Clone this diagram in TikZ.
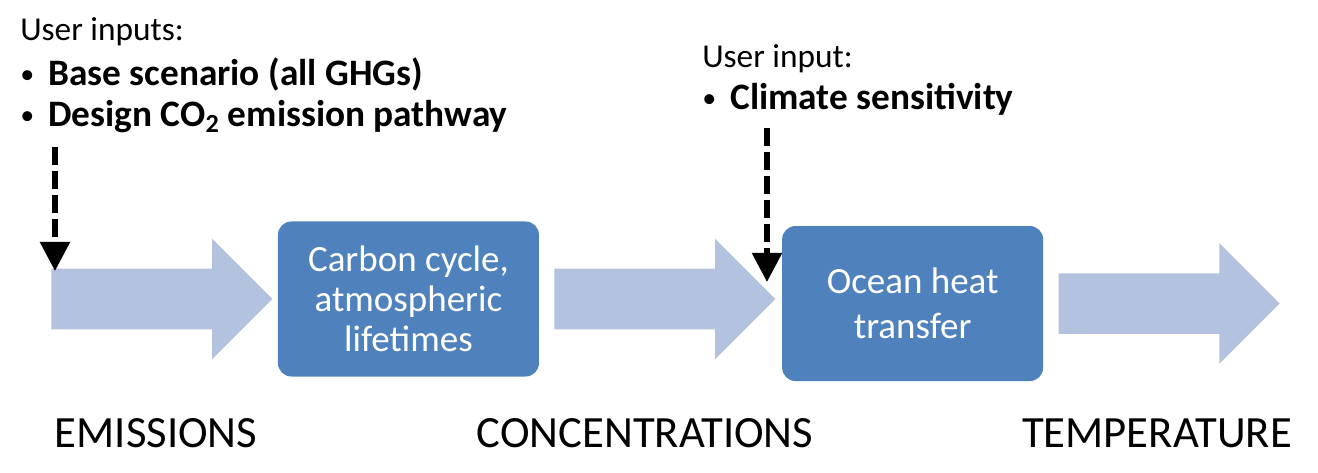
\documentclass[tikz,border=0pt]{standalone}
\usepackage{fontspec}
\setmainfont{Carlito}
\usepackage{xcolor}
\usepackage{tikz}
\usetikzlibrary{arrows.meta,positioning,shapes.arrows}

\definecolor{boxblue}{HTML}{4F81BD}
\definecolor{flowblue}{RGB}{179,194,222}

\newcommand{\itembullet}{\makebox[21pt][l]{\fontsize{21}{21}\selectfont\raisebox{1.8pt}{\textbullet}}}

\begin{document}
\begin{tikzpicture}[
  x=0.75pt, y=0.75pt,
  flow/.style={single arrow, fill=flowblue, draw=none, minimum height=165.75pt, inner xsep=0pt, inner ysep=22.5pt, single arrow head extend=22.5pt, single arrow tip angle=90},
  process/.style={fill=boxblue, draw=none, rounded corners=10pt, align=center, text=white, minimum width=195.75pt, minimum height=116.25pt, inner sep=0pt},
  stage/.style={anchor=base, inner sep=0pt, font=\fontsize{33.5}{40}\selectfont},
  heading/.style={anchor=base west, inner sep=0pt, font=\fontsize{25}{30}\selectfont},
  item/.style={anchor=base west, inner sep=0pt, font=\fontsize{28}{33}\selectfont},
  userarrow/.style={-{Triangle[width=21.75pt,length=21.75pt]}, line width=4pt, dash pattern=on 13.5pt off 4.5pt}
]
\useasboundingbox (0,0) rectangle (1318,472);

% main chain
\node[flow, anchor=west] (emit) at (51,173) {};
\node[process, right=3.75pt of emit, font=\fontsize{27.75}{30}\selectfont] (carbon) {Carbon cycle,\\atmospheric\\lifetimes};
\node[flow, right=11.25pt of carbon] (conc) {};
\node[process, right=4.5pt of conc, yshift=-3.4pt, font=\fontsize{27.75}{33.75}\selectfont] (ocean) {Ocean heat\\transfer};
\node[flow, right=11.25pt of ocean] (temp) {};

% stage labels
\node[stage] (emitlabel) at (156,25) {EMISSIONS};
\node[stage] (conclabel) at (645,25) {CONCENTRATIONS};
\node[stage] (templabel) at (1157,25) {TEMPERATURE};

% user inputs
\node[heading] (inputs) at (20,431) {User inputs:};
\node[item] (scenario) at (20,386) {\itembullet\textbf{Base scenario (all GHGs)}};
\node[item] (pathway) at (20,345) {\itembullet\textbf{Design CO\textsubscript{2} emission pathway}};
\node[heading] (input) at (702,404) {User input:};
\node[item] (sens) at (702,362) {\itembullet\textbf{Climate sensitivity}};

\coordinate (in1) at (55,325);
\coordinate (hit1) at (55,201);
\coordinate (in2) at (767,344);
\coordinate (hit2) at (767,190);
\draw[userarrow] (in1) -- (hit1);
\draw[userarrow] (in2) -- (hit2);
\end{tikzpicture}
\end{document}
